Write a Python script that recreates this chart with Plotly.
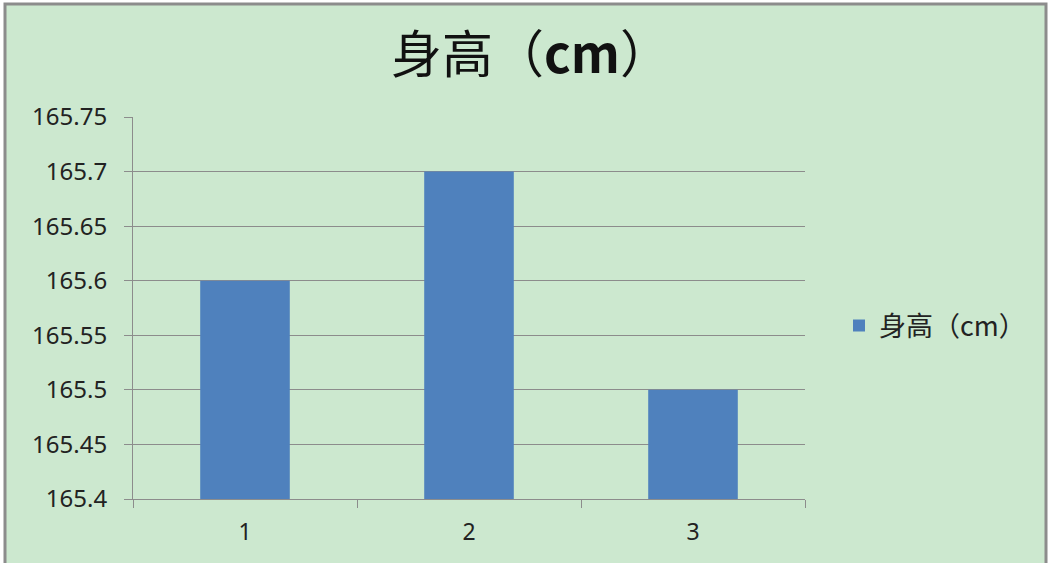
import plotly.graph_objects as go

categories = ["1", "2", "3"]
heights = [165.6, 165.7, 165.5]
y_ticks = [165.4, 165.45, 165.5, 165.55, 165.6, 165.65, 165.7, 165.75]
y_tick_labels = ["165.4", "165.45", "165.5", "165.55", "165.6", "165.65", "165.7", "165.75"]
series_name = "身高（cm）"

W, H = 1050, 563
L, R, T, B = 133, 805, 117, 499
pw, ph = R - L, B - T


def px_x(p):
    return (p - L) / pw


def px_y(p):
    return (B - p) / ph


fig = go.Figure()
fig.add_trace(go.Bar(
    x=categories,
    y=heights,
    name=series_name,
    marker=dict(color="#4F81BD", line=dict(width=0)),
    width=0.4,
    showlegend=True,
))

# chart frame / background
fig.add_shape(type="rect", xref="paper", yref="paper",
              x0=px_x(5), x1=px_x(1046), y0=px_y(570), y1=px_y(4),
              fillcolor="#CCE8CF", line=dict(color="#8C8C8C", width=3), layer="below")

fig.update_layout(
    width=W, height=H,
    margin=dict(l=L, r=W - R, t=T, b=H - B),
    paper_bgcolor="white",
    plot_bgcolor="rgba(0,0,0,0)",
    title=dict(text="身高（<b>cm</b>）", x=531 / W, xanchor="center", xref="container",
               y=1 - 55 / H, yanchor="middle", yref="container",
               font=dict(family="Noto Sans CJK SC", size=51, color="#111")),
    font=dict(family="Noto Sans, Noto Sans CJK SC", size=24, color="#222"),
    showlegend=True,
    legend=dict(x=px_x(839), y=px_y(326), xanchor="left", yanchor="middle",
                bgcolor="rgba(0,0,0,0)", font=dict(size=27, family="Noto Sans CJK SC", color="#222"),
                itemwidth=30),
)
fig.update_xaxes(
    type="category", showgrid=False, showline=True, linecolor="#8C8C8C", linewidth=1,
    ticks="outside", ticklen=8, tickcolor="#8C8C8C", tickson="boundaries",
    tickfont=dict(size=23), ticklabelstandoff=12, range=[-0.5, 2.5],
)
fig.update_yaxes(
    range=[165.4, 165.75], tickvals=y_ticks, ticktext=y_tick_labels,
    showgrid=True, gridcolor="#8C8C8C", gridwidth=1, zeroline=False,
    showline=True, linecolor="#8C8C8C", linewidth=1,
    ticks="outside", ticklen=8, tickcolor="#8C8C8C", tickfont=dict(size=24),
    ticklabelstandoff=12,
)

fig.write_html("out.html", config={"displayModeBar": False},
               post_script="document.body.style.margin='0';")
